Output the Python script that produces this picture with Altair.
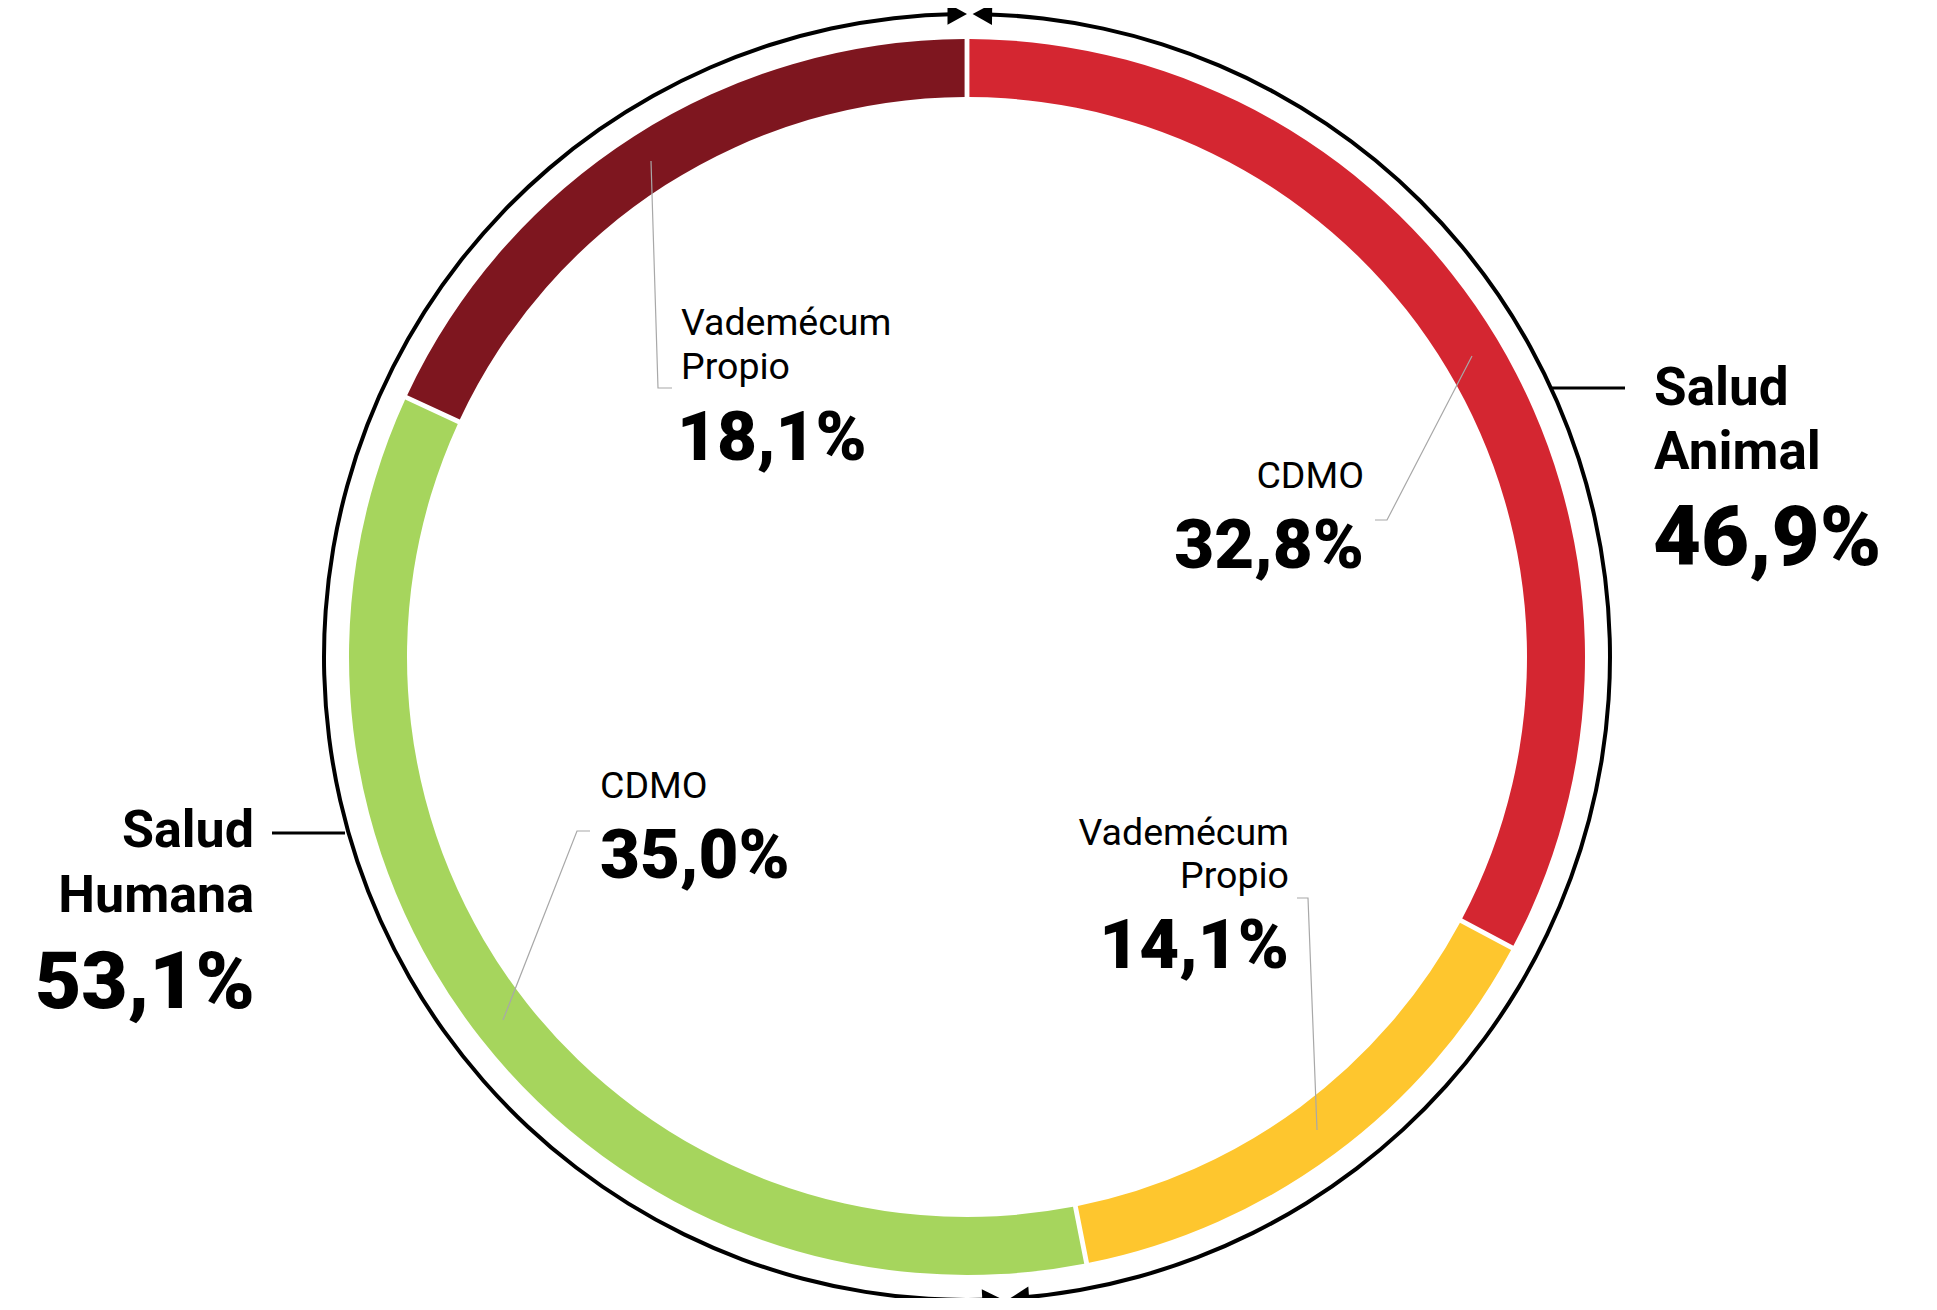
import math
import altair as alt
import pandas as pd

# ---------------- data ----------------
segments = ["Animal CDMO", "Animal Vademécum", "Humana CDMO", "Humana Vademécum"]
seg_names = ["CDMO", "Vademécum Propio", "CDMO", "Vademécum Propio"]
seg_values = [32.8, 14.1, 35.0, 18.1]
seg_colors = ["#D42631", "#FEC62E", "#A6D55D", "#7E161F"]
groups = ["Salud Animal", "Salud Humana"]
group_members = [[0, 1], [2, 3]]
# bracket arrow tips (degrees clockwise from top)
bracket_start_deg = [0.7, 177.1]
bracket_end_deg = [176.0, 359.8]

# ---------------- layout ----------------
W, H = 1920, 1290
CX, CY = 959, 649
R_OUT, R_IN = 618, 560
R_BR = 643
ARROW = 15          # arrow length in px
ARROW_SIZE = 380    # symbol size


def fmt(v):
    return f"{v:.1f}".replace(".", ",") + "%"


group_totals = [round(sum(seg_values[i] for i in m), 1) for m in group_members]

# donut
donut_df = pd.DataFrame({"seg": segments, "value": seg_values, "ord": list(range(len(segments)))})
donut = alt.Chart(donut_df).mark_arc(
    radius=R_OUT, radius2=R_IN, padAngle=0.0058, x=CX, y=CY
).encode(
    theta=alt.Theta("value:Q", stack=True),
    order=alt.Order("ord:Q"),
    color=alt.Color("seg:N", scale=alt.Scale(domain=segments, range=seg_colors), legend=None),
)

# bracket arcs
half = ARROW / 2 / R_BR
br_df = pd.DataFrame({
    "g": groups,
    "t0": [math.radians(a) + half for a in bracket_start_deg],
    "t1": [math.radians(a) - half for a in bracket_end_deg],
})
brackets = alt.Chart(br_df).mark_arc(
    radius=R_BR + 2, radius2=R_BR - 2, color="black", x=CX, y=CY
).encode(
    theta=alt.Theta("t0:Q", scale=None),
    theta2="t1:Q",
)

# arrowheads
rows = []
for s, e in zip(bracket_start_deg, bracket_end_deg):
    for deg, sign in [(s, -1), (e, 1)]:
        t = math.radians(deg)
        tx, ty = CX + R_BR * math.sin(t), CY - R_BR * math.cos(t)
        dx, dy = sign * math.cos(t), sign * math.sin(t)
        rows.append({
            "px": tx - dx * ARROW / 2,
            "py": ty - dy * ARROW / 2,
            "ang": (deg + (0 if sign > 0 else 180)) % 360,
        })
arrow_df = pd.DataFrame(rows)
arrows = alt.Chart(arrow_df).mark_point(
    shape="M1,0L-1,-1.1L-1,1.1Z", filled=True, color="black", size=ARROW_SIZE, opacity=1, strokeWidth=0
).encode(
    x=alt.X("px:Q", scale=None, axis=None),
    y=alt.Y("py:Q", scale=None, axis=None),
    angle=alt.Angle("ang:Q", scale=None),
)

# connector rules from bracket to group label
conn_df = pd.DataFrame({"x0": [1542, 264], "x1": [1617, 337], "y": [380, 825]})
connectors = alt.Chart(conn_df).mark_rule(color="black", strokeWidth=3).encode(
    x=alt.X("x0:Q", scale=None, axis=None), x2="x1:Q", y=alt.Y("y:Q", scale=None, axis=None)
)

# leader lines
leader_pts = {
    3: [(643, 153), (650, 380), (664, 380)],
    0: [(1464, 348), (1379, 512), (1367, 512)],
    2: [(582, 823), (569, 823), (495, 1012)],
    1: [(1289, 890), (1300, 890), (1309, 1122)],
}
lrows = []
for k, pts in leader_pts.items():
    for i, (x, y) in enumerate(pts):
        lrows.append({"lid": segments[k], "o": i, "x": x, "y": y})
leaders = alt.Chart(pd.DataFrame(lrows)).mark_line(color="#a8a8a8", strokeWidth=1.2).encode(
    x=alt.X("x:Q", scale=None, axis=None),
    y=alt.Y("y:Q", scale=None, axis=None),
    detail="lid:N",
    order="o:Q",
)


def text_layer(items, size, weight, align):
    df = pd.DataFrame(items, columns=["t", "x", "y"])
    return alt.Chart(df).mark_text(
        font="Roboto", fontSize=size, fontWeight=weight, align=align, baseline="alphabetic", color="black"
    ).encode(
        x=alt.X("x:Q", scale=None, axis=None),
        y=alt.Y("y:Q", scale=None, axis=None),
        text="t:N",
    )


def lines(name):
    return name.split(" ") if " " in name else [name]


vp = lines(seg_names[3])
vy = lines(seg_names[1])
small_left = text_layer(
    [(vp[0], 673, 327), (vp[1], 673, 371), (seg_names[2], 592, 790)], 37.5, 400, "left")
small_right = text_layer(
    [(seg_names[0], 1356, 480), (vy[0], 1281, 837), (vy[1], 1281, 880)], 37.5, 400, "right")
pct_left = text_layer(
    [(fmt(seg_values[3]), 669, 452), (fmt(seg_values[2]), 592, 870)], 69, 900, "left")
pct_right = text_layer(
    [(fmt(seg_values[0]), 1356, 560), (fmt(seg_values[1]), 1281, 960)], 69, 900, "right")

ga = groups[0].split(" ")
gh = groups[1].split(" ")
grp_left = text_layer([(ga[0], 1646, 397), (ga[1], 1646, 461)], 53, 700, "left")
grp_right = text_layer([(gh[0], 246, 839), (gh[1], 246, 904)], 52, 700, "right")
gpct_left = text_layer([(fmt(group_totals[0]), 1645, 557)], 83, 900, "left")
gpct_right = text_layer([(fmt(group_totals[1]), 247, 1000)], 80, 900, "right")

chart = alt.layer(
    donut, brackets, arrows, connectors, leaders,
    small_left, small_right, pct_left, pct_right,
    grp_left, grp_right, gpct_left, gpct_right,
).properties(
    width=W, height=H, padding=0, autosize=alt.AutoSizeParams(type="none"), background="white"
).configure_view(strokeWidth=0)

chart.save("out.html", embed_options={"renderer": "svg", "actions": False})
